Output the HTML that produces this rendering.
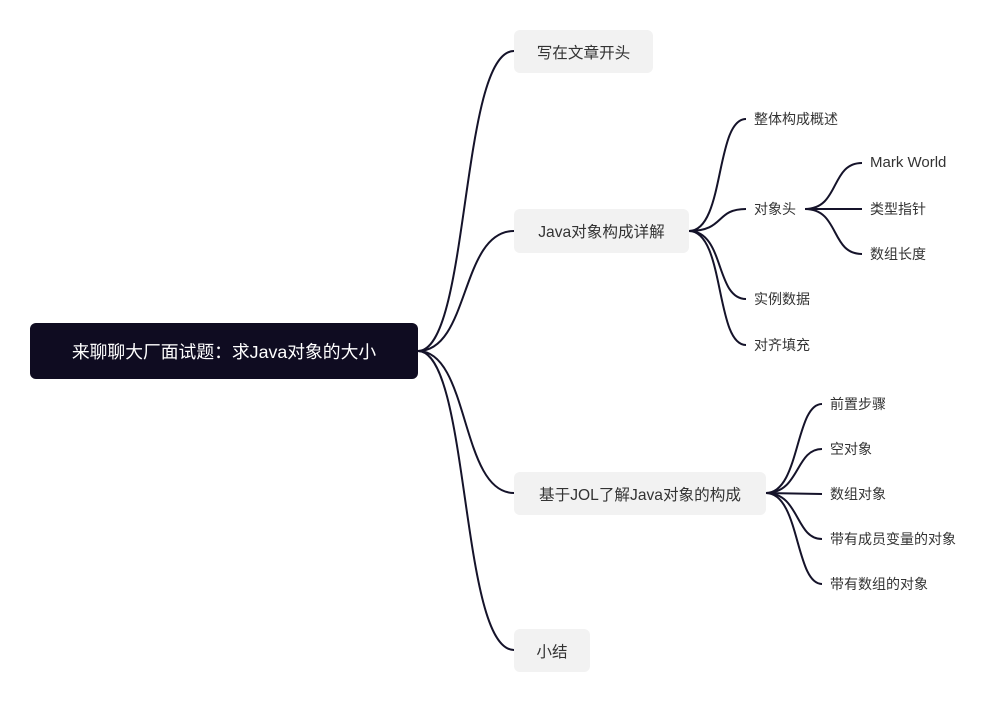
<!DOCTYPE html>
<html><head><meta charset="utf-8"><style>
body{margin:0;width:996px;height:703px;background:#fff;position:relative;overflow:hidden;font-family:"Liberation Sans","Noto Sans CJK SC",sans-serif;}
.b{position:absolute;background:#f2f2f2;border-radius:6px;color:#333;font-size:15.6px;display:flex;align-items:center;justify-content:center;}
.r{position:absolute;left:30px;top:323px;width:388px;height:56px;background:#0f0c21;border-radius:6px;color:#fff;font-size:17.8px;display:flex;align-items:center;justify-content:center;}
.t{position:absolute;font-size:14px;color:#333;line-height:16px;white-space:nowrap;}
</style></head><body>
<svg width="996" height="703" style="position:absolute;left:0;top:0" fill="none" stroke="#15132a" stroke-width="2">
<path d="M418 351 C470 351 460 51 514 51"/>
<path d="M418 351 C470 351 460 231 514 231"/>
<path d="M418 351 C470 351 460 493 514 493"/>
<path d="M418 351 C470 351 460 650 514 650"/>
<path d="M689 231 C725 231 715 119 746 119"/>
<path d="M689 231 C725 231 715 209 746 209"/>
<path d="M689 231 C725 231 715 299 746 299"/>
<path d="M689 231 C725 231 715 345 746 345"/>
<path d="M805 209 C840 209 830 163 862 163"/>
<path d="M805 209 L862 209"/>
<path d="M805 209 C840 209 830 254 862 254"/>
<path d="M766 493 C800 493 795 404 822 404"/>
<path d="M766 493 C800 493 795 449 822 449"/>
<path d="M766 493 L822 494"/>
<path d="M766 493 C800 493 795 539 822 539"/>
<path d="M766 493 C800 493 795 584 822 584"/>
</svg>
<div class="r">来聊聊大厂面试题：求Java对象的大小</div>
<div class="b" style="left:514px;top:30px;width:139px;height:43px">写在文章开头</div>
<div class="b" style="left:514px;top:209px;width:175px;height:44px">Java对象构成详解</div>
<div class="b" style="left:514px;top:472px;width:252px;height:43px">基于JOL了解Java对象的构成</div>
<div class="b" style="left:514px;top:629px;width:76px;height:43px">小结</div>
<div class="t" style="left:754px;top:111px">整体构成概述</div>
<div class="t" style="left:754px;top:201px">对象头</div>
<div class="t" style="left:754px;top:291px">实例数据</div>
<div class="t" style="left:754px;top:337px">对齐填充</div>
<div class="t" style="left:870px;top:155px;font-size:15px">Mark World</div>
<div class="t" style="left:870px;top:201px">类型指针</div>
<div class="t" style="left:870px;top:246px">数组长度</div>
<div class="t" style="left:830px;top:396px">前置步骤</div>
<div class="t" style="left:830px;top:441px">空对象</div>
<div class="t" style="left:830px;top:486px">数组对象</div>
<div class="t" style="left:830px;top:531px">带有成员变量的对象</div>
<div class="t" style="left:830px;top:576px">带有数组的对象</div>
</body></html>
